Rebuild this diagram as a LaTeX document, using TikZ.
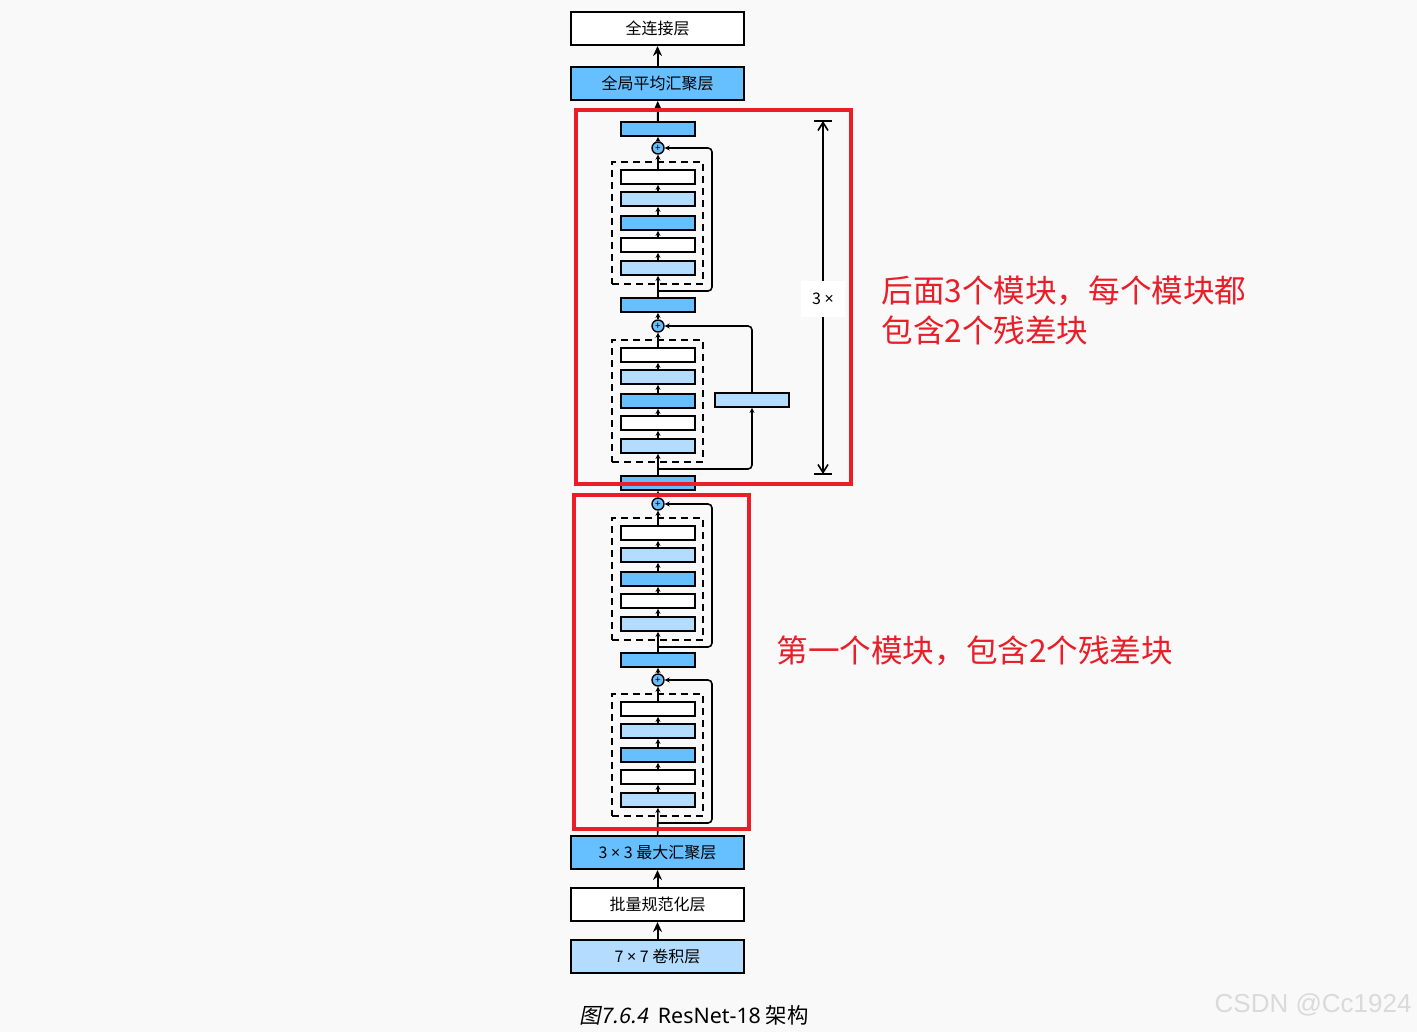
\documentclass[tikz,border=0pt]{standalone}
\usepackage{fontspec}
\setmainfont{Noto Sans CJK SC}
\newfontfamily\slantfont[FakeSlant=0.2]{Noto Sans CJK SC}
\newfontfamily\capfont{Noto Sans}
\newfontfamily\markfont{Liberation Sans}
\usepackage{tikz}
\usetikzlibrary{arrows.meta}
\definecolor{bgpage}{RGB}{249,249,249}
\definecolor{layerblue}{RGB}{102,191,255}
\definecolor{layerlight}{RGB}{179,220,255}
\definecolor{markred}{RGB}{234,30,40}
\definecolor{markgray}{RGB}{218,218,218}
\newcommand{\tm}{{\capfont ×}}
\tikzset{
    layer/.style = {draw, line width=1pt, rectangle, minimum width=86.5pt, minimum height=16.5pt, inner sep=0pt, font=\fontsize{8}{9}\selectfont},
    bar/.style = {draw, line width=0.9pt, rectangle, minimum width=37pt, minimum height=7pt, inner sep=0pt},
    addnode/.style = {draw, circle, fill=layerblue, line width=0.7pt, minimum size=6pt, inner sep=0pt, font=\fontsize{5}{5}\selectfont},
    dashbox/.style = {draw, dash pattern=on 3.5pt off 2.5pt, line width=0.8pt, minimum width=45.5pt, minimum height=61pt, inner sep=0pt},
    small arrow/.style = {-{Stealth[length=2.5pt,width=2.5pt]}, line width=0.8pt},
    big arrow/.style = {-{Stealth[length=5pt,width=4.5pt]}, line width=1pt},
    redbox/.style = {draw=markred, line width=2pt},
    annot/.style = {text=markred, font=\fontsize{15.8}{20}\selectfont, inner sep=0pt},
}

\begin{document}
\begin{tikzpicture}[x=0.5pt, y=-0.5pt]
\useasboundingbox (0,0) rectangle (1417,1032);
\fill[bgpage] (0,0) rectangle (1417,1032);

% head and stem
\node[layer, fill=white] (fc) at (657.5,28.5) {全连接层};
\node[layer, fill=layerblue] (gap) at (657.5,83.5) {全局平均汇聚层};
\node[layer, fill=layerblue] (pool) at (657.5,852.5) {3 \tm{} 3 最大汇聚层};
\node[layer, fill=white] (bn) at (657.5,904.5) {批量规范化层};
\node[layer, fill=layerlight] (conv7) at (657.5,956.5) {7 \tm{} 7 卷积层};

% blue bars between the residual units
\foreach \u/\y in {1/129,2/305,3/483,4/660}
    \node[bar, fill=layerblue] (c\u) at (658,\y) {};

% residual units
\foreach \u/\p in {1/148,2/326,3/504,4/680}{
    \node[addnode] (add\u) at (658,\p) {+};
    \node[dashbox] (res\u) at (657.5,\p+75) {};
    \foreach \i/\dy/\col in {1/29/white,2/51/layerlight,3/75/layerblue,4/97/white,5/120/layerlight}
        \node[bar, fill=\col] (b\u\i) at (658,\p+\dy) {};
    \foreach \i/\j in {1/2,2/3,3/4,4/5}
        \draw[small arrow] (b\u\j) -- (b\u\i);
    \draw[small arrow] (b\u1) -- (add\u);
    \draw[small arrow] (add\u) -- (c\u);
    \coordinate (br\u) at (658,\p+143);
}
\foreach \u/\src in {1/c2,2/c3,3/c4,4/pool}
    \draw[small arrow] (\src) -- (b\u5);

% shortcuts
\node[bar, fill=layerlight] (proj) at (752,400) {};
\draw[small arrow, rounded corners=2pt] (br1) -| (712,148) -- (add1);
\draw[small arrow, rounded corners=2pt] (br2) -| (proj);
\draw[small arrow, rounded corners=2pt] (proj) |- (add2);
\draw[small arrow, rounded corners=2pt] (br3) -| (712,504) -- (add3);
\draw[small arrow, rounded corners=2pt] (br4) -| (712,680) -- (add4);

% main arrows
\draw[big arrow] (conv7) -- (bn);
\draw[big arrow] (bn) -- (pool);
\draw[big arrow] (c1) -- (gap);
\draw[big arrow] (gap) -- (fc);

% repeat bracket
\coordinate (rtop) at (823,121);
\coordinate (rbot) at (823,474);
\draw[{Straight Barb[length=4pt,width=5pt]}-{Straight Barb[length=4pt,width=5pt]}, line width=0.8pt] (rtop) -- (rbot);
\draw[line width=0.8pt] ([xshift=-4.5pt]rtop) -- ([xshift=4.5pt]rtop);
\draw[line width=0.8pt] ([xshift=-4.5pt]rbot) -- ([xshift=4.5pt]rbot);
\node[fill=white, minimum width=22pt, minimum height=18pt, inner sep=0pt, font=\fontsize{8}{9}\selectfont] (times) at (823,299) {3 \tm};

% red marks
\draw[redbox] (576,110) rectangle (851,484);
\draw[redbox] (574,495) rectangle (749,829);
\node[annot, anchor=west, align=left] (note1) at (881,310) {后面3个模块，每个模块都\\包含2个残差块};
\node[annot, anchor=west] (note2) at (776,651) {第一个模块，包含2个残差块};

% caption and watermark
\node[anchor=west, inner sep=0pt, font=\fontsize{10.7}{12}\selectfont] (caption) at (579,1015) {{\slantfont 图7.6.4}\ \ {\capfont ResNet-18} 架构};
\node[anchor=east, inner sep=0pt, text=markgray, font=\markfont\fontsize{13}{15}\selectfont] (mark) at (1412,1005) {CSDN @Cc1924};
\end{tikzpicture}
\end{document}
